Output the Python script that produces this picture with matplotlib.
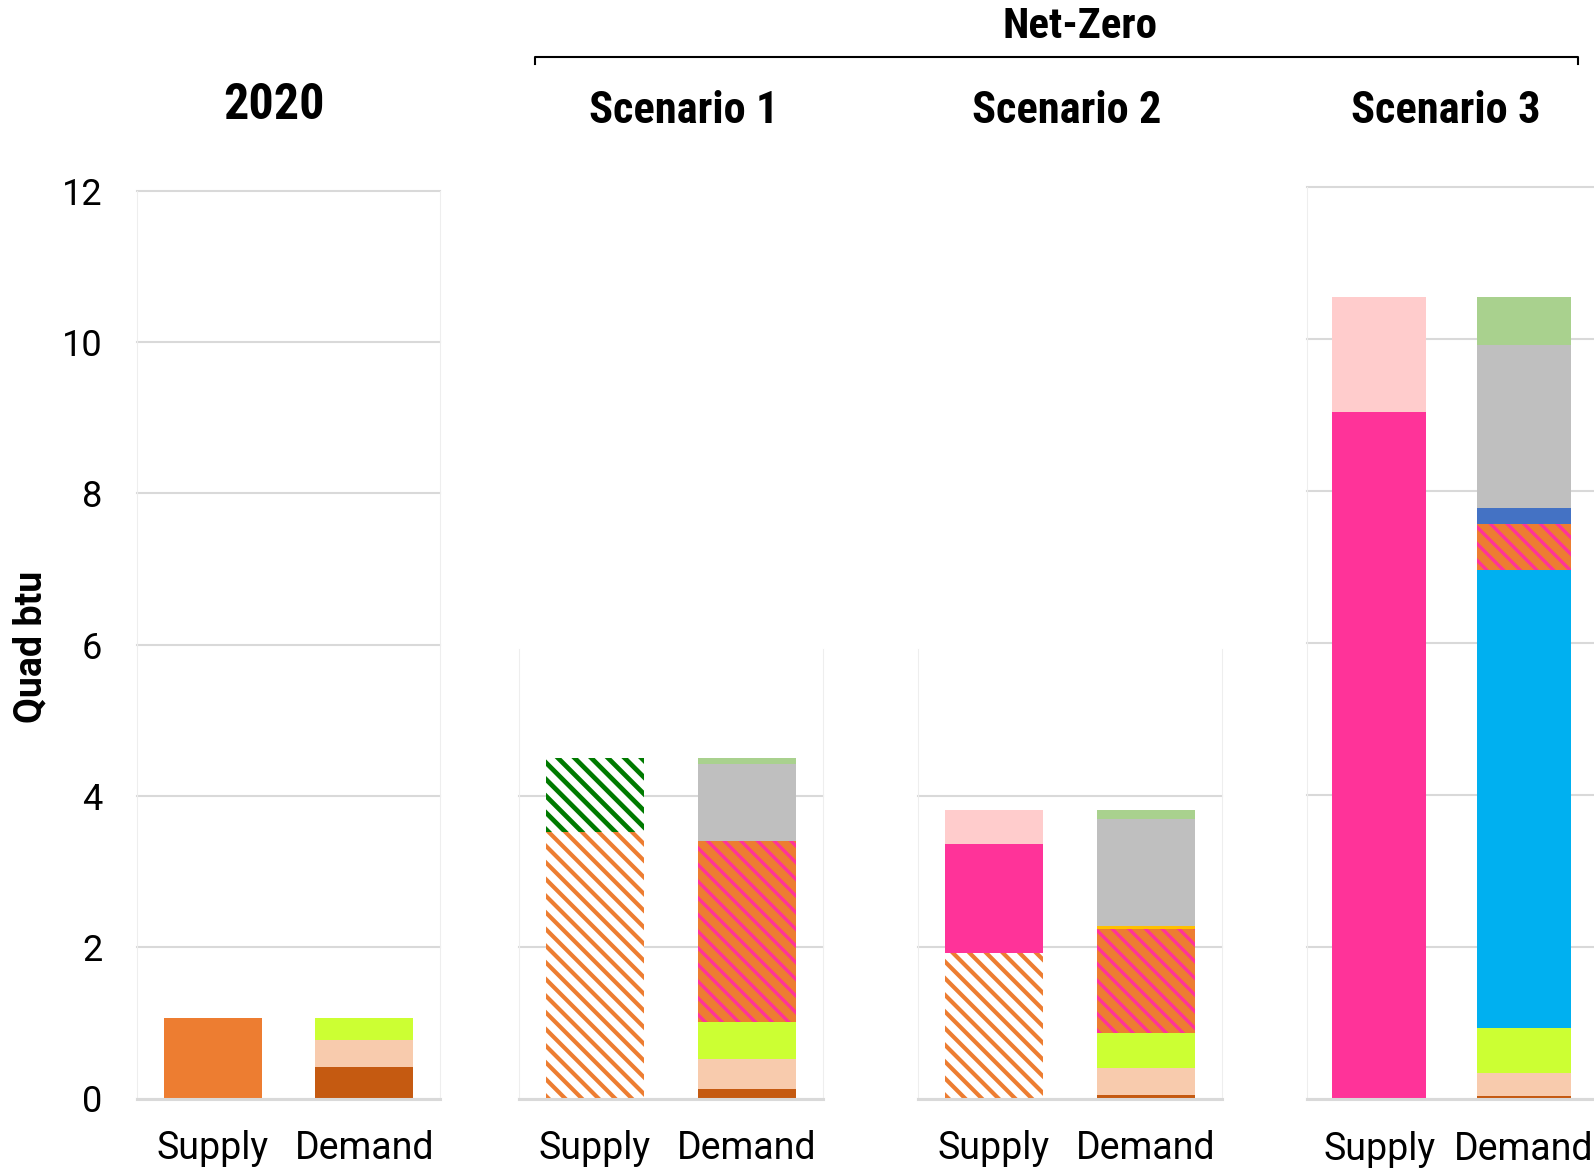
import matplotlib
matplotlib.use("Agg")
import matplotlib.pyplot as plt
from matplotlib.lines import Line2D

W, H, DPI = 1594, 1168, 100

plt.rcParams["font.family"] = ["Roboto", "DejaVu Sans"]
plt.rcParams["hatch.linewidth"] = 3.0

panels = ["2020", "Scenario 1", "Scenario 2", "Scenario 3"]
bars = ["Supply", "Demand"]
y_ticks_full = [0, 2, 4, 6, 8, 10, 12]
y_ticks_short = [0, 2, 4]
group_title = "Net-Zero"
y_label = "Quad btu"

# Supply stack, bottom to top, one value per panel
supply_orange = [1.07, 0, 0, 0]
supply_orange_hatch = [0, 3.53, 1.92, 0]
supply_green_hatch = [0, 0.97, 0, 0]
supply_pink = [0, 0, 1.44, 9.04]
supply_light_pink = [0, 0, 0.45, 1.51]

# Demand stack, bottom to top, one value per panel
demand_dark_orange = [0.42, 0.13, 0.05, 0.04]
demand_peach = [0.36, 0.39, 0.35, 0.30]
demand_lime = [0.29, 0.49, 0.47, 0.60]
demand_cyan = [0, 0, 0, 6.02]
demand_mixed_hatch = [0, 2.39, 1.37, 0.61]
demand_gold = [0, 0, 0.04, 0]
demand_blue = [0, 0, 0, 0.21]
demand_gray = [0, 1.02, 1.41, 2.14]
demand_light_green = [0, 0.08, 0.12, 0.63]

ORANGE = "#ED7D31"
PINK = "#FF3399"

# (values, face colour, hatch colour or None, hatch line width)
supply_stack = [
    (supply_orange, ORANGE, None, None),
    (supply_orange_hatch, "white", ORANGE, 3.0),
    (supply_green_hatch, "white", "#007A00", 3.4),
    (supply_pink, PINK, None, None),
    (supply_light_pink, "#FFCCCC", None, None),
]
demand_stack = [
    (demand_dark_orange, "#C55A11", None, None),
    (demand_peach, "#F8CBAD", None, None),
    (demand_lime, "#CCFF33", None, None),
    (demand_cyan, "#00B0F0", None, None),
    (demand_mixed_hatch, ORANGE, PINK, 2.4),
    (demand_gold, "#FFC000", None, None),
    (demand_blue, "#4472C4", None, None),
    (demand_gray, "#BFBFBF", None, None),
    (demand_light_green, "#A9D18E", None, None),
]

# panel frames in pixels: left, right, baseline, pixels per unit, y max, ticks, labels
frames = [
    (137, 440, 1098.5, 75.63, 12, y_ticks_full, True),
    (519, 823, 1098.5, 75.63, 5.95, y_ticks_short, False),
    (918, 1222, 1098.5, 75.63, 5.95, y_ticks_short, False),
    (1307, 1596, 1099.0, 76.0, 12, y_ticks_full, False),
]

fig = plt.figure(figsize=(W / DPI, H / DPI), dpi=DPI)
fig.patch.set_facecolor("white")

BAR_W = 0.65
GRID = "#D9D9D9"

for i, (l, r, base, ppu, ymax, ticks, show_labels) in enumerate(frames):
    top = base - ymax * ppu
    ax = fig.add_axes([l / W, 1 - base / H, (r - l) / W, (base - top) / H])
    ax.set_xlim(-0.5, 1.5)
    ax.set_ylim(0, ymax)
    ax.set_axisbelow(True)

    for x, stack in ((0, supply_stack), (1, demand_stack)):
        bottom = 0.0
        for values, face, hatch_col, hatch_lw in stack:
            v = values[i]
            if v <= 0:
                continue
            if hatch_col is None:
                ax.bar(x, v, bottom=bottom, width=BAR_W, color=face,
                       linewidth=0)
            else:
                with plt.rc_context({"hatch.linewidth": hatch_lw}):
                    ax.bar(x, v, bottom=bottom, width=BAR_W, color=face,
                           edgecolor=hatch_col, linewidth=0, hatch="\\\\")
            bottom += v

    ax.set_yticks(ticks)
    ax.yaxis.grid(True, color=GRID, linewidth=1.5, clip_on=False)
    ax.xaxis.grid(False)
    if show_labels:
        ax.set_yticklabels([str(t) for t in ticks])
    else:
        ax.set_yticklabels([])
    ax.tick_params(axis="y", length=0, pad=25, labelsize=26, labelcolor="black")
    ax.set_xticks([0, 1])
    ax.set_xticklabels(bars)
    ax.tick_params(axis="x", length=0, pad=23, labelsize=27, labelcolor="black")

    ax.spines["top"].set_visible(False)
    for side in ("left", "right"):
        ax.spines[side].set_color("#EEEEEE")
        ax.spines[side].set_linewidth(0.8)
    ax.spines["bottom"].set_color(GRID)
    ax.spines["bottom"].set_linewidth(2.2)

TITLE_FONT = ["Roboto Condensed", "DejaVu Sans"]

title_pos = [(274, 119, 36), (684, 123, 32), (1067, 123, 32), (1446, 123, 32)]
for name, (cx, by, size) in zip(panels, title_pos):
    fig.text(cx / W, 1 - by / H, name, ha="center", va="baseline",
             fontsize=size, fontweight=900, family=TITLE_FONT)

fig.text(1080 / W, 1 - 38 / H, group_title, ha="center", va="baseline",
         fontsize=31, fontweight=900, family=TITLE_FONT)

# bracket spanning the net-zero scenarios
fig.add_artist(Line2D([535 / W, 535 / W, 1578 / W, 1578 / W],
                      [1 - 64 / H, 1 - 57 / H, 1 - 57 / H, 1 - 64 / H],
                      color="black", linewidth=1.5))

fig.text(31 / W, 1 - 647 / H, y_label, rotation=90, ha="center", va="center",
         fontsize=27, fontweight="bold")

fig.savefig("out.png", dpi=DPI, facecolor="white")
